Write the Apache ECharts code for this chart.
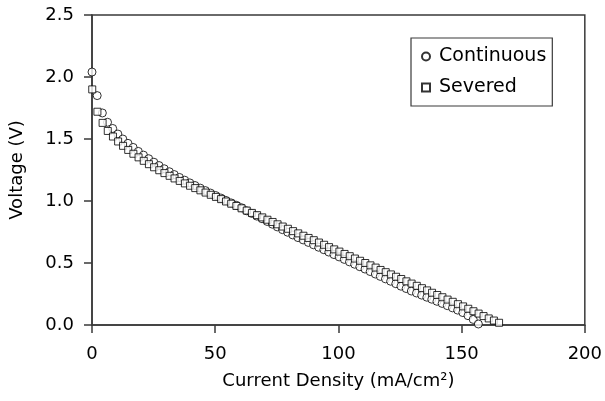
<!DOCTYPE html>
<html>
<head>
<meta charset="utf-8">
<script src="https://cdn.jsdelivr.net/npm/echarts@6/dist/echarts.min.js"></script>
<style>
  html, body { margin: 0; padding: 0; background: #fff; }
  #chart { width: 605px; height: 401px; }
</style>
</head>
<body>
<div id="chart"></div>
<script>
// Continuous cell: current density (mA/cm2) and voltage (V)
var contX = [0.0, 2.1, 4.2, 6.3, 8.4, 10.5, 12.5, 14.6, 16.7, 18.8, 20.9, 23.0, 25.1, 27.2, 29.3, 31.4, 33.4, 35.5, 37.6, 39.7,
    41.8, 43.9, 46.0, 48.1, 50.2, 52.3, 54.3, 56.4, 58.5, 60.6, 62.7, 64.8, 66.9, 69.0, 71.1, 73.2, 75.2, 77.3, 79.4, 81.5,
    83.6, 85.7, 87.8, 89.9, 92.0, 94.1, 96.1, 98.2, 100.3, 102.4, 104.5, 106.6, 108.7, 110.8, 112.9, 115.0, 117.0, 119.1, 121.2, 123.3,
    125.4, 127.5, 129.6, 131.7, 133.8, 135.9, 137.9, 140.0, 142.1, 144.2, 146.3, 148.4, 150.5, 152.6, 154.7, 156.8];
var contV = [2.04, 1.85, 1.71, 1.635, 1.585, 1.54, 1.50, 1.465, 1.432, 1.40, 1.37, 1.341, 1.313, 1.286, 1.26, 1.236, 1.213, 1.19, 1.168, 1.146,
    1.125, 1.104, 1.084, 1.064, 1.044, 1.024, 1.005, 0.985, 0.966, 0.946, 0.921, 0.900, 0.878, 0.857, 0.835, 0.813, 0.791, 0.769, 0.748, 0.726,
    0.705, 0.686, 0.666, 0.647, 0.627, 0.607, 0.588, 0.568, 0.549, 0.529, 0.509, 0.490, 0.470, 0.451, 0.431, 0.411, 0.392, 0.372, 0.353, 0.333,
    0.313, 0.294, 0.274, 0.258, 0.241, 0.224, 0.208, 0.191, 0.174, 0.156, 0.138, 0.120, 0.100, 0.075, 0.045, 0.008];

// Severed cell
var sevX = [0.1, 2.2, 4.3, 6.4, 8.5, 10.6, 12.6, 14.7, 16.8, 18.9, 21.0, 23.1, 25.2, 27.3, 29.4, 31.5, 33.5, 35.6, 37.7, 39.8,
    41.9, 44.0, 46.1, 48.2, 50.3, 52.4, 54.4, 56.5, 58.6, 60.7, 62.8, 64.9, 67.0, 69.1, 71.2, 73.3, 75.3, 77.4, 79.5, 81.6,
    83.7, 85.8, 87.9, 90.0, 92.1, 94.2, 96.2, 98.3, 100.4, 102.5, 104.6, 106.7, 108.8, 110.9, 113.0, 115.1, 117.1, 119.2, 121.3, 123.4,
    125.5, 127.6, 129.7, 131.8, 133.9, 136.0, 138.0, 140.1, 142.2, 144.3, 146.4, 148.5, 150.6, 152.7, 154.8, 156.9, 158.9, 161.0, 163.1, 165.2];
var sevV = [1.90, 1.72, 1.63, 1.565, 1.52, 1.48, 1.445, 1.412, 1.381, 1.352, 1.324, 1.297, 1.272, 1.248, 1.225, 1.203, 1.182, 1.162, 1.142, 1.123,
    1.104, 1.086, 1.068, 1.05, 1.033, 1.015, 0.996, 0.978, 0.960, 0.941, 0.923, 0.904, 0.886, 0.868, 0.849, 0.831, 0.812, 0.794, 0.776, 0.757,
    0.739, 0.720, 0.702, 0.684, 0.665, 0.647, 0.628, 0.610, 0.592, 0.573, 0.555, 0.536, 0.518, 0.500, 0.481, 0.463, 0.444, 0.426, 0.408, 0.389,
    0.371, 0.352, 0.334, 0.316, 0.297, 0.279, 0.260, 0.242, 0.224, 0.205, 0.187, 0.168, 0.150, 0.131, 0.111, 0.092, 0.072, 0.053, 0.036, 0.018];

var xTicks = [0, 50, 100, 150, 200];
var yTicks = [0, 0.5, 1.0, 1.5, 2.0, 2.5];

var zip = function (xs, ys) {
    return xs.map(function (x, i) { return [x, ys[i]]; });
};

var font = 'DejaVu Sans';
var axisColor = '#3a3a3a';

var chart = echarts.init(document.getElementById('chart'));

chart.setOption({
    animation: false,
    backgroundColor: '#fff',
    textStyle: { fontFamily: font, color: '#000' },
    grid: {
        left: 91, right: 18, top: 15, bottom: 76,
        show: true,
        borderColor: axisColor,
        borderWidth: 1.5
    },
    legend: {
        orient: 'vertical',
        left: 411, top: 38,
        padding: [9, 6, 9, 10],
        borderColor: axisColor,
        borderWidth: 1.2,
        itemWidth: 8, itemHeight: 8,
        itemGap: 12,
        textStyle: { fontFamily: font, fontSize: 19, color: '#000', padding: [0, 0, 0, 4] },
        data: ['Continuous', 'Severed']
    },
    xAxis: {
        type: 'value',
        min: xTicks[0], max: xTicks[xTicks.length - 1], interval: 50,
        name: 'Current Density (mA/cm²)',
        nameLocation: 'middle',
        nameGap: 47,
        nameTextStyle: { fontFamily: font, fontSize: 18, color: '#000' },
        axisLine: { show: true, lineStyle: { color: axisColor, width: 1.5 } },
        axisTick: { show: true, inside: false, length: 8, lineStyle: { color: axisColor, width: 1.5 } },
        axisLabel: { fontFamily: font, fontSize: 18, color: '#000', margin: 20 },
        splitLine: { show: false }
    },
    yAxis: {
        type: 'value',
        min: yTicks[0], max: yTicks[yTicks.length - 1], interval: 0.5,
        name: 'Voltage (V)',
        nameLocation: 'middle',
        nameGap: 66,
        nameTextStyle: { fontFamily: font, fontSize: 18, color: '#000' },
        axisLine: { show: true, lineStyle: { color: axisColor, width: 1.5 } },
        axisTick: { show: true, inside: false, length: 8, lineStyle: { color: axisColor, width: 1.5 } },
        axisLabel: {
            fontFamily: font, fontSize: 18, color: '#000', margin: 18,
            formatter: function (v) { return v.toFixed(1); }
        },
        splitLine: { show: false }
    },
    series: [
        {
            name: 'Continuous',
            type: 'scatter',
            symbol: 'circle',
            symbolSize: 8,
            itemStyle: { color: '#fff', borderColor: '#000', borderWidth: 1 },
            data: zip(contX, contV)
        },
        {
            name: 'Severed',
            type: 'scatter',
            symbol: 'rect',
            symbolSize: 7,
            itemStyle: { color: '#fff', borderColor: '#000', borderWidth: 1 },
            data: zip(sevX, sevV)
        }
    ]
});
</script>
</body>
</html>
